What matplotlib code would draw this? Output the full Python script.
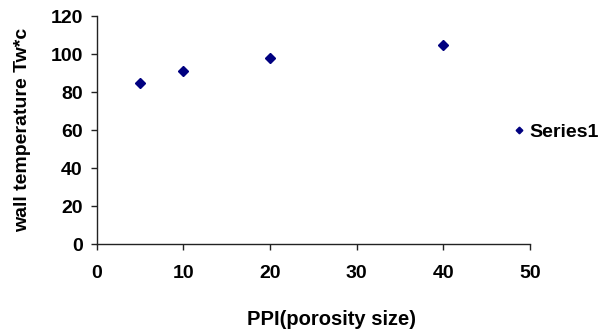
import matplotlib.pyplot as plt

# datos
ppi = [5, 10, 20, 40]
tw = [85, 91, 98, 105]
serie = "Series1"
xticks = [0, 10, 20, 30, 40, 50]
yticks = [0, 20, 40, 60, 80, 100, 120]

plt.rcParams['font.family'] = ['Liberation Sans', 'DejaVu Sans']
plt.rcParams['font.weight'] = 'bold'

fig = plt.figure(figsize=(6.11, 3.35), dpi=100)
ax = fig.add_axes([0.1583, 0.2716, 0.7091, 0.6806])

ax.plot(ppi, tw, linestyle='none', marker='D', markersize=5.2,
        color='#000080', label=serie)

ax.set_xlim(0, 50)
ax.set_ylim(0, 120)
ax.set_xticks(xticks)
ax.set_yticks(yticks)
ax.spines['top'].set_visible(False)
ax.spines['right'].set_visible(False)
for s in ['left', 'bottom']:
    ax.spines[s].set_color('#222222')
    ax.spines[s].set_linewidth(1.0)
ax.tick_params(axis='both', direction='out', length=4, width=1.0,
               color='#222222', labelsize=14)
ax.tick_params(axis='x', pad=11)
ax.tick_params(axis='y', pad=6)

ax.set_xlabel("PPI(porosity size)", fontsize=14.5, fontweight='bold', labelpad=20)
ax.xaxis.label.set_x(0.543)
ax.set_ylabel("wall temperature Tw*c", fontsize=14, fontweight='bold', labelpad=14)

ax.legend(loc='center left', bbox_to_anchor=(0.824, 0.605),
          bbox_transform=fig.transFigure, frameon=False, fontsize=14,
          handlelength=0.6, handletextpad=0.25, markerscale=0.65, borderpad=0)

fig.savefig("out.png", dpi=100)
